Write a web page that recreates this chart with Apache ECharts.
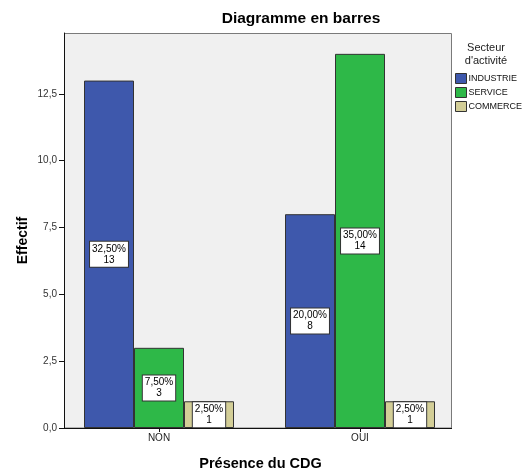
<!DOCTYPE html>
<html>
<head>
<meta charset="utf-8">
<script src="https://cdn.jsdelivr.net/npm/echarts@6/dist/echarts.min.js"></script>
<style>
  html, body { margin: 0; padding: 0; background: #fff; }
  #chart { width: 525px; height: 470px; }
</style>
</head>
<body>
<div id="chart"></div>
<script>
// Présence du CDG × secteur d'activité (effectifs)
const categories = ['NON', 'OUI'];
const sectors = ['INDUSTRIE', 'SERVICE', 'COMMERCE'];
const industrie = [13, 8];
const service = [3, 14];
const commerce = [1, 1];
const tickValues = [0, 2.5, 5, 7.5, 10, 12.5];
const tickLabels = ['0,0', '2,5', '5,0', '7,5', '10,0', '12,5'];

const sectorColors = ['#3E58AC', '#2EB848', '#D3CE97'];
const seriesValues = [industrie, service, commerce];
const total = seriesValues.flat().reduce((a, b) => a + b, 0);

const font = 'Liberation Sans, Arial, sans-serif';

function pct(v) {
  return (v / total * 100).toFixed(2).replace('.', ',') + '%';
}

const chart = echarts.init(document.getElementById('chart'), null, { renderer: 'canvas' });

chart.setOption({
  animation: false,
  backgroundColor: '#ffffff',
  textStyle: { fontFamily: font },
  title: [
    {
      text: 'Diagramme en barres',
      left: 301, top: 11, padding: 0, textAlign: 'center',
      textStyle: { fontFamily: font, fontSize: 15.5, fontWeight: 'bold', color: '#000' }
    },
    {
      text: "Secteur\nd'activité",
      left: 486, top: 41, padding: 0, textAlign: 'center',
      textStyle: { fontFamily: font, fontSize: 11, fontWeight: 'normal', color: '#222', lineHeight: 13 }
    }
  ],
  legend: {
    orient: 'vertical',
    left: 455, top: 73,
    padding: 0,
    itemWidth: 11, itemHeight: 10, itemGap: 3,
    icon: 'rect',
    data: sectors,
    itemStyle: { borderColor: '#333', borderWidth: 1 },
    textStyle: { fontFamily: font, fontSize: 9, lineHeight: 10, color: '#111', padding: [0, 0, 0, -3] }
  },
  grid: { left: 58.5, right: 64.5, top: 33, bottom: 42, outerBoundsMode: 'none', containLabel: false },
  graphic: [
    {
      type: 'rect', z: -10, silent: true,
      shape: { x: 64.5, y: 33.5, width: 387, height: 394.5 },
      style: { fill: '#F0F0F0', stroke: '#7A7A7A', lineWidth: 1 }
    },
    {
      type: 'line', z: 50, silent: true,
      shape: { x1: 64, y1: 428.5, x2: 452, y2: 428.5 },
      style: { stroke: '#111', lineWidth: 1 }
    }
  ],
  xAxis: {
    type: 'category',
    data: categories,
    name: 'Présence du CDG',
    nameLocation: 'middle',
    nameGap: 28,
    nameMoveOverlap: false,
    nameTextStyle: { fontFamily: font, fontSize: 14.5, fontWeight: 'bold', color: '#000', padding: [0, 0, 0, 2] },
    axisLine: { show: false },
    axisTick: { show: true, alignWithLabel: true, length: 4, lineStyle: { color: '#111' } },
    axisLabel: { fontFamily: font, fontSize: 10, color: '#222', margin: 5 },
    splitLine: { show: false }
  },
  yAxis: {
    type: 'value',
    min: 0, max: 14.78,
    offset: -5.5,
    name: 'Effectif',
    nameLocation: 'middle',
    nameGap: 34,
    nameMoveOverlap: false,
    nameRotate: 90,
    nameTextStyle: { fontFamily: font, fontSize: 14, fontWeight: 'bold', color: '#000', padding: [0, 20, 0, 0] },
    axisLine: { show: true, lineStyle: { color: '#111' } },
    axisTick: { show: true, length: 5, lineStyle: { color: '#111' }, customValues: tickValues },
    axisLabel: {
      fontFamily: font, fontSize: 10, color: '#333', margin: 7,
      customValues: tickValues,
      formatter: v => tickLabels[tickValues.indexOf(v)] ?? ''
    },
    splitLine: { show: false }
  },
  series: sectors.map((name, i) => ({
    name: name,
    type: 'bar',
    data: seriesValues[i],
    barWidth: 50,
    barGap: '0%',
    itemStyle: { color: sectorColors[i], borderColor: '#333', borderWidth: 1 },
    label: {
      show: true,
      position: 'inside',
      formatter: p => pct(p.value) + '\n' + p.value,
      fontFamily: font, fontSize: 10, color: '#000', lineHeight: 11,
      backgroundColor: '#fff', borderColor: '#333', borderWidth: 1,
      padding: [2, 2, 1, 2]
    }
  }))
});
</script>
</body>
</html>
